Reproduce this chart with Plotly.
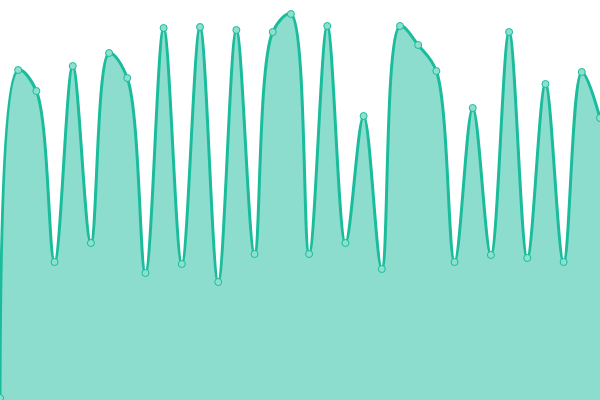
import plotly.graph_objects as go

x_idx = list(range(34))
values = [2, 330, 309, 138, 334, 157, 347, 322, 127, 372, 136, 373, 118, 370,
          146, 368, 386, 146, 374, 157, 284, 131, 374, 355, 329, 138, 292, 145,
          368, 142, 316, 138, 328, 282]

fig = go.Figure(go.Scatter(
    x=x_idx, y=values, mode="lines+markers",
    line=dict(color="#1abc9c", width=3, shape="spline", smoothing=1),
    marker=dict(size=7, color="#8de0cf", line=dict(color="#1abc9c", width=1)),
    fill="tozeroy", fillcolor="rgba(26,188,156,0.5)",
    hoverinfo="skip", cliponaxis=False,
))
fig.update_layout(
    width=600, height=400, margin=dict(l=0, r=0, t=0, b=0),
    paper_bgcolor="white", plot_bgcolor="white", showlegend=False,
    xaxis=dict(visible=False, range=[0, 33]),
    yaxis=dict(visible=False, range=[0, 400]),
)
fig.write_html("out.html", config={"displayModeBar": False},
               post_script="document.body.style.margin='0';document.body.style.overflow='hidden';")
